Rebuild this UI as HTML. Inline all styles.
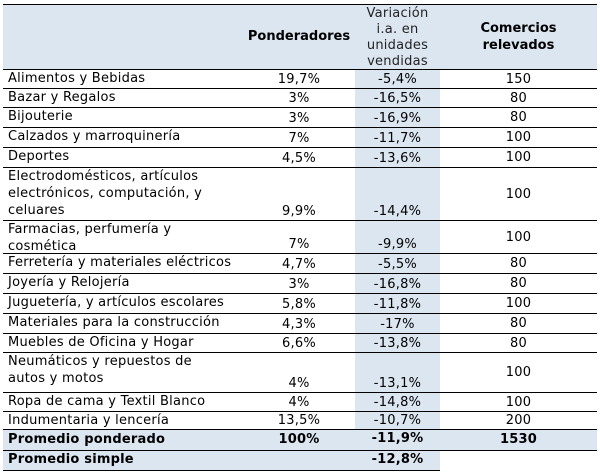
<!DOCTYPE html><html><head><meta charset="utf-8"><style>
body{margin:0;width:600px;height:473px;background:#fff;position:relative;font-family:"DejaVu Sans","Liberation Sans",sans-serif;font-size:13px;letter-spacing:0.25px;color:#000;overflow:hidden}
.a{position:absolute;white-space:nowrap}
.l{position:absolute;height:1px;background:#000;left:3px}
.c{position:absolute;text-align:center;white-space:nowrap}
</style></head><body>
<div class="a" style="left:3px;top:4px;width:594px;height:65px;background:#dce6f1"></div>
<div class="a" style="left:355px;top:69px;width:85px;height:360px;background:#dce6f1"></div>
<div class="a" style="left:3px;top:429px;width:594px;height:21px;background:#dce6f1"></div>
<div class="a" style="left:3px;top:450px;width:437px;height:20px;background:#dce6f1"></div>
<div class="l" style="top:4px;width:594px"></div>
<div class="c" style="left:243px;width:112px;top:29px;font-weight:bold;letter-spacing:0">Ponderadores</div>
<div class="c" style="left:355px;width:85px;top:6px;line-height:16px;color:#222">Variación<br>i.a. en<br>unidades<br>vendidas</div>
<div class="c" style="left:440px;width:157px;top:20px;line-height:17px;font-weight:bold;letter-spacing:0">Comercios<br>relevados</div>
<div id="rows"></div>
<script>
var R=[["Alimentos y Bebidas","19,7%","-5,4%","150",69,88],
["Bazar y Regalos","3%","-16,5%","80",88,107],
["Bijouterie","3%","-16,9%","80",107,127],
["Calzados y marroquinería","7%","-11,7%","100",127,147],
["Deportes","4,5%","-13,6%","100",147,167],
["Electrodomésticos, artículos<br>electrónicos, computación, y<br>celuares","9,9%","-14,4%","100",167,220],
["Farmacias, perfumería y<br>cosmética","7%","-9,9%","100",220,253],
["Ferretería y materiales eléctricos","4,7%","-5,5%","80",253,273],
["Joyería y Relojería","3%","-16,8%","80",273,293],
["Juguetería, y artículos escolares","5,8%","-11,8%","100",293,313],
["Materiales para la construcción","4,3%","-17%","80",313,333],
["Muebles de Oficina y Hogar","6,6%","-13,8%","80",333,352],
["Neumáticos y repuestos de<br>autos y motos","4%","-13,1%","100",352,392],
["Ropa de cama y Textil Blanco","4%","-14,8%","100",392,411],
["Indumentaria y lencería","13,5%","-10,7%","200",411,429]];
var h="";
R.forEach(function(r){var t=r[4],b=r[5];
h+='<div class="l" style="top:'+t+'px;width:594px"></div>';
h+='<div class="a" style="left:8px;top:'+(t+1)+'px;line-height:17px">'+r[0]+'</div>';
h+='<div class="c" style="left:243px;width:112px;top:'+(b-17)+'px;line-height:17px">'+r[1]+'</div>';
h+='<div class="c" style="left:355px;width:85px;top:'+(b-17)+'px;line-height:17px">'+r[2]+'</div>';
var m=(t+b)/2;
h+='<div class="c" style="left:440px;width:157px;top:'+(m-8)+'px;line-height:17px">'+r[3]+'</div>';});
h+='<div class="l" style="top:429px;width:594px"></div>';
var B='font-weight:bold;letter-spacing:0.2px;';
h+='<div class="a" style="left:8px;top:432px;'+B+'">Promedio ponderado</div>';
h+='<div class="c" style="left:243px;width:112px;top:432px;'+B+'">100%</div>';
h+='<div class="c" style="left:355px;width:85px;top:431px;'+B+'">-11,9%</div>';
h+='<div class="c" style="left:440px;width:157px;top:432px;'+B+'">1530</div>';
h+='<div class="l" style="top:450px;width:594px"></div>';
h+='<div class="a" style="left:8px;top:452px;'+B+'">Promedio simple</div>';
h+='<div class="c" style="left:355px;width:85px;top:452px;'+B+'">-12,8%</div>';
h+='<div class="l" style="top:470px;width:437px"></div>';
document.getElementById("rows").outerHTML=h;
</script>
</body></html>
